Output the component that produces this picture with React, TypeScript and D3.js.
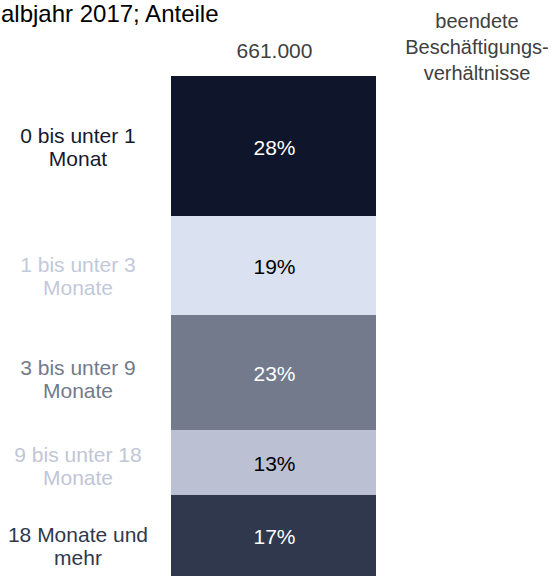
import React from 'react';
import * as d3 from 'd3';

// segment shares and the printed labels
const categories = [
  ['0 bis unter 1', 'Monat'],
  ['1 bis unter 3', 'Monate'],
  ['3  bis unter 9', 'Monate'],
  ['9 bis unter 18', 'Monate'],
  ['18 Monate und', 'mehr'],
];
const shares = [28, 19.8, 23, 13, 16.2];
const shareLabels = ['28%', '19%', '23%', '13%', '17%'];
const total = '661.000';
const seriesLabel = ['beendete', 'Beschäftigungs-', 'verhältnisse'];
const title = 'albjahr 2017; Anteile';

const fills = ['#0f152a', '#dae1f0', '#727a8c', '#bbc1d3', '#30384d'];
const catColors = ['#141a2f', '#c2c9da', '#727a8c', '#c0c6d7', '#30384d'];
const valueColors = ['#ffffff', '#000000', '#ffffff', '#000000', '#ffffff'];
// small vertical nudge of the left labels vs. segment centre
const labelShift = [1, 10, 6, 3, 10];

const W = 556;
const H = 576;
const font = '"Liberation Sans", Arial, sans-serif';

const App = () => {
  const y = d3.scaleLinear().domain([0, 100]).range([76, 576]);
  const x = d3.scaleBand().domain(['a']).range([171, 376]).padding(0);

  const stack = d3.cumsum(shares);
  const segs = shares.map((v, i) => ({
    v,
    i,
    y0: y(i === 0 ? 0 : stack[i - 1]),
    y1: y(stack[i]),
  }));

  const bx = x('a') as number;
  const bw = x.bandwidth();
  const cx = bx + bw / 2;

  return (
    <svg width={W} height={H} style={{ position: 'absolute', left: 0, top: 0, display: 'block' }}
      fontFamily={font}>
      <text x={1} y={22} fontSize={24} fill="#000">{title}</text>

      <text x={cx + 1} y={58} fontSize={21} fill="#404040" textAnchor="middle">{total}</text>

      {seriesLabel.map((t, i) => (
        <text key={t} x={477} y={28 + i * 26} fontSize={20} fill="#404040" textAnchor="middle">{t}</text>
      ))}

      <g className="bars">
        {segs.map(s => (
          <rect key={s.i} x={bx} y={s.y0} width={bw} height={s.y1 - s.y0} fill={fills[s.i]} />
        ))}
      </g>

      <g className="values">
        {segs.map(s => (
          <text key={s.i} x={cx + 1} y={(s.y0 + s.y1) / 2 + 1} fontSize={21} fill={valueColors[s.i]}
            textAnchor="middle" dominantBaseline="central">{shareLabels[s.i]}</text>
        ))}
      </g>

      <g className="cats">
        {segs.map(s => {
          const c = (s.y0 + s.y1) / 2 + labelShift[s.i];
          return (
            <text key={s.i} fontSize={21} fill={catColors[s.i]} textAnchor="middle">
              <tspan x={78} y={c - 4}>{categories[s.i][0]}</tspan>
              <tspan x={78} y={c + 19}>{categories[s.i][1]}</tspan>
            </text>
          );
        })}
      </g>
    </svg>
  );
};

export default App;
